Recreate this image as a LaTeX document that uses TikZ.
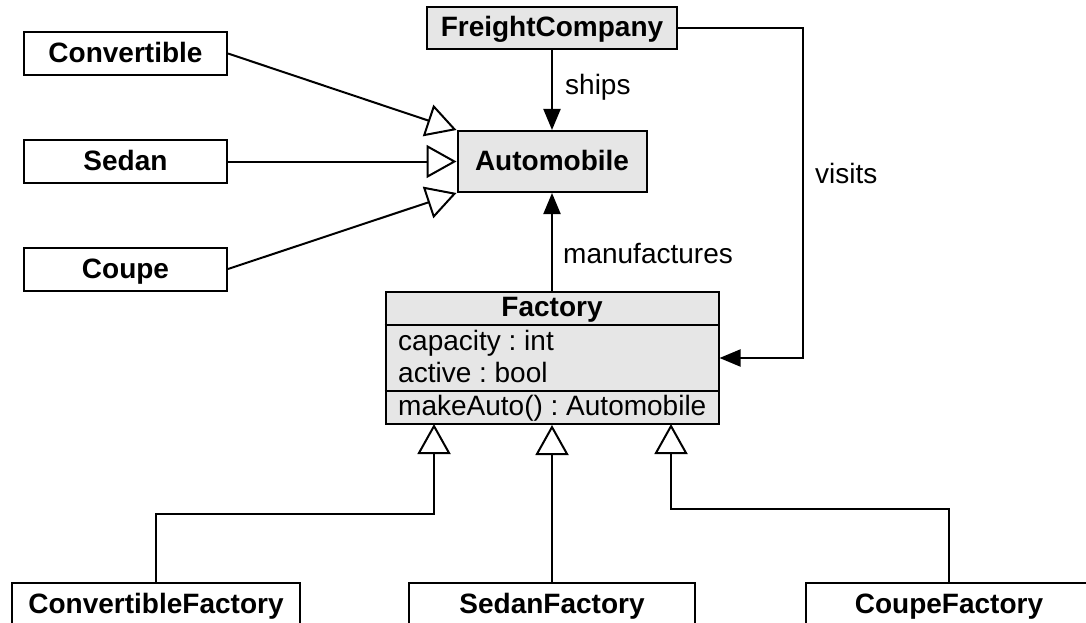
\documentclass[tikz,border=0pt]{standalone}
\usepackage{fontspec}
\setmainfont{Liberation Sans}
\usetikzlibrary{arrows.meta}
\definecolor{boxgray}{RGB}{230,230,230}
\frenchspacing
\begin{document}
\begin{tikzpicture}[x=1pt,y=-1pt,
  cls/.style={draw, line width=2pt, inner sep=0pt,
    font=\fontsize{28}{32}\selectfont\bfseries,
    text height=20pt, text depth=2pt, minimum height=43pt},
  lbl/.style={inner sep=0pt, font=\fontsize{28}{32}\selectfont},
  gen/.style={line width=2pt, -{Triangle[fill=white, length=30pt, width=33pt]}},
  assoc/.style={line width=2pt, -{Triangle[length=21pt, width=17pt]}}
]
\useasboundingbox (0,0) rectangle (1086,623);
\clip (0,0) rectangle (1086,623);
\fill[white] (0,0) rectangle (1086,623);

% classes
\node[cls, fill=boxgray, minimum width=250pt, minimum height=42pt] (fc) at (552,28) {FreightCompany};
\node[cls, fill=boxgray, minimum width=189pt, minimum height=61pt] (auto) at (552,161.5) {Automobile};
\node[cls, minimum width=203pt] (conv) at (125.5,53.5) {Convertible};
\node[cls, minimum width=203pt] (sedan) at (125.5,161.5) {Sedan};
\node[cls, minimum width=203pt] (coupe) at (125.5,269) {Coupe};

% Factory
\node[draw, line width=2pt, fill=boxgray, inner sep=0pt, minimum width=333pt, minimum height=132pt] (fac) at (552,358) {};
\draw[line width=2pt] (fac.west |- 0,325) -- (fac.east |- 0,325);
\draw[line width=2pt] (fac.west |- 0,391) -- (fac.east |- 0,391);
\node[lbl, font=\fontsize{28}{32}\selectfont\bfseries, anchor=base] (facname) at (552,316) {Factory};
\node[lbl, anchor=base west] (attr1) at (398,350) {capacity : int};
\node[lbl, anchor=base west] (attr2) at (398,382) {active : bool};
\node[lbl, anchor=base west] (op1) at (398,415) {makeAuto() : Automobile};

% subclasses of Factory
\node[cls, minimum width=288pt] (cf) at (156,604.5) {ConvertibleFactory};
\node[cls, minimum width=286pt] (sf) at (552,604.5) {SedanFactory};
\node[cls, minimum width=286pt] (kf) at (949,604.5) {CoupeFactory};

% generalizations to Automobile
\draw[gen] (conv.east) -- (auto.north west);
\draw[gen] (sedan.east) -- (auto.west);
\draw[gen] (coupe.east) -- (auto.south west);

% associations
\draw[assoc] (fc.south) -- (auto.north);
\draw[assoc] (fac.north) -- (auto.south);
\coordinate (vcorner) at (803,28);
\draw[assoc] (fc.east) -- (vcorner) |- (fac.east);

\node[lbl, anchor=base west] (lships) at (565,95) {ships};
\node[lbl, anchor=base west] (lmanu) at (563,263) {manufactures};
\node[lbl, anchor=base west] (lvisits) at (815,183) {visits};

% generalizations to Factory
\coordinate (g1) at (434,424);
\coordinate (g3) at (671,424);
\draw[gen] (cf.north) -- ++(0,-68) -| (g1);
\draw[gen] (sf.north) -- (fac.south);
\draw[gen] (kf.north) -- ++(0,-73) -| (g3);
\end{tikzpicture}
\end{document}
